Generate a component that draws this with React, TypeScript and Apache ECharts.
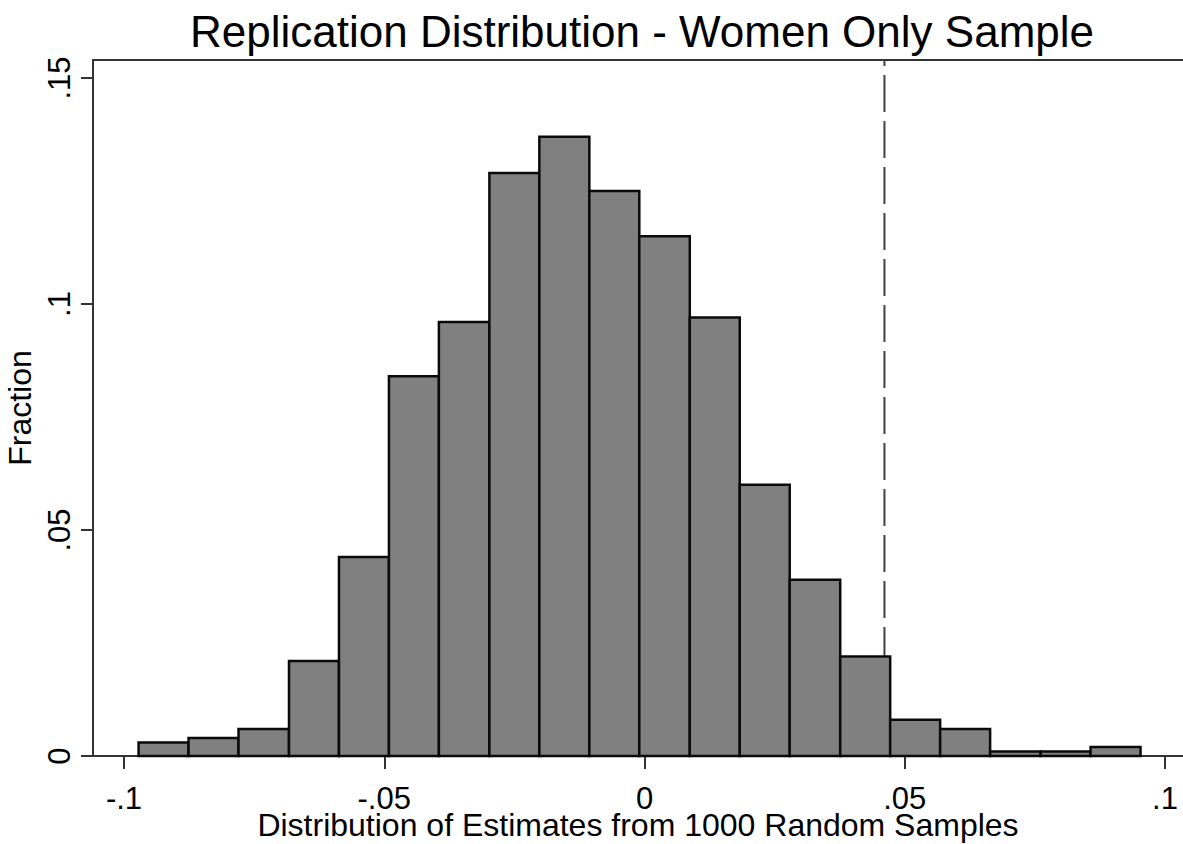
import React, { useEffect, useRef } from "react";
import * as echarts from "echarts";

const TITLE = "Replication Distribution - Women Only Sample";
const X_TITLE = "Distribution of Estimates from 1000 Random Samples";
const Y_TITLE = "Fraction";

// histogram bin edges (21 edges -> 20 bins)
const binEdges = [
  -0.0972, -0.0876, -0.078, -0.0683, -0.0587, -0.0491, -0.0395, -0.0298,
  -0.0202, -0.0106, -0.001, 0.0087, 0.0183, 0.0279, 0.0376, 0.0472, 0.0568,
  0.0664, 0.0761, 0.0857, 0.0953,
];
// fraction of samples per bin
const fractions = [
  0.003, 0.004, 0.006, 0.021, 0.044, 0.084, 0.096, 0.129, 0.137, 0.125,
  0.115, 0.097, 0.06, 0.039, 0.022, 0.008, 0.006, 0.001, 0.001, 0.002,
];

const xTicks = [-0.1, -0.05, 0, 0.05, 0.1];
const xTickLabels = ["-.1", "-.05", "0", ".05", ".1"];
const yTicks = [0, 0.05, 0.1, 0.15];
const yTickLabels = ["0", ".05", ".1", ".15"];

const referenceValue = 0.0461;

const X_MIN = -0.105956;
const X_MAX = 0.103458;
const Y_MIN = 0;
const Y_MAX = 0.153982;

const FONT = "'Liberation Sans', Arial, Helvetica, sans-serif";
const AXIS_COLOR = "#333333";

export default function App() {
  const ref = useRef<HTMLDivElement>(null);

  useEffect(() => {
    if (!ref.current) return;
    const chart = echarts.init(ref.current, null, { renderer: "svg" });

    const histData = fractions.map((f, i) => [binEdges[i], binEdges[i + 1], f]);

    const option: any = {
      animation: false,
      backgroundColor: "#ffffff",
      title: {
        text: TITLE,
        left: 637,
        top: 4,
        textAlign: "center",
        textStyle: {
          fontFamily: FONT,
          fontSize: 44,
          fontWeight: "normal",
          color: "#000000",
        },
      },
      grid: {
        left: 93,
        right: 0,
        top: 60,
        bottom: 88,
        containLabel: false,
        outerBoundsMode: "none",
      },
      xAxis: [
        {
          type: "value",
          min: X_MIN,
          max: X_MAX,
          position: "bottom",
          splitLine: { show: false },
          axisLine: { show: true, onZero: false, lineStyle: { color: AXIS_COLOR, width: 2 } },
          axisTick: {
            show: true,
            length: 13,
            customValues: xTicks,
            lineStyle: { color: AXIS_COLOR, width: 2 },
          },
          axisLabel: {
            show: true,
            customValues: xTicks,
            margin: 30,
            lineHeight: 24,
            fontFamily: FONT,
            fontSize: 31,
            color: "#000000",
            formatter: (v: number) => {
              const i = xTicks.findIndex((t) => Math.abs(t - v) < 1e-9);
              return i >= 0 ? xTickLabels[i] : "";
            },
          },
          name: X_TITLE,
          nameLocation: "middle",
          nameGap: 56,
          nameMoveOverlap: false,
          nameTextStyle: { fontFamily: FONT, fontSize: 32, lineHeight: 26, color: "#000000" },
        },
        {
          type: "value",
          min: X_MIN,
          max: X_MAX,
          position: "top",
          splitLine: { show: false },
          axisLine: { show: true, onZero: false, lineStyle: { color: AXIS_COLOR, width: 2 } },
          axisTick: { show: false },
          axisLabel: { show: false },
        },
      ],
      yAxis: {
        type: "value",
        min: Y_MIN,
        max: Y_MAX,
        splitLine: { show: false },
        axisLine: { show: true, onZero: false, lineStyle: { color: AXIS_COLOR, width: 2 } },
        axisTick: {
          show: true,
          length: 12,
          customValues: yTicks,
          lineStyle: { color: AXIS_COLOR, width: 2 },
        },
        axisLabel: {
          show: true,
          customValues: yTicks,
          rotate: 90,
          margin: 18,
          fontFamily: FONT,
          fontSize: 31,
          color: "#000000",
          formatter: (v: number) => {
            const i = yTicks.findIndex((t) => Math.abs(t - v) < 1e-9);
            return i >= 0 ? yTickLabels[i] : "";
          },
        },
        name: Y_TITLE,
        nameLocation: "middle",
        nameGap: 55,
        nameRotate: 90,
        nameTextStyle: { fontFamily: FONT, fontSize: 32, color: "#000000" },
      },
      series: [
        {
          type: "line",
          xAxisIndex: 0,
          yAxisIndex: 0,
          data: [
            [referenceValue, Y_MIN],
            [referenceValue, Y_MAX],
          ],
          symbol: "none",
          lineStyle: { color: "#404040", width: 2, type: [37, 9] },
          z: 1,
        },
        {
          type: "custom",
          xAxisIndex: 0,
          yAxisIndex: 0,
          data: histData,
          encode: { x: [0, 1], y: 2 },
          z: 3,
          renderItem: (params: any, api: any) => {
            const x0 = api.value(0);
            const x1 = api.value(1);
            const y = api.value(2);
            const p0 = api.coord([x0, y]);
            const p1 = api.coord([x1, 0]);
            return {
              type: "rect",
              shape: {
                x: p0[0],
                y: p0[1],
                width: p1[0] - p0[0],
                height: p1[1] - p0[1],
              },
              style: { fill: "#808080", stroke: "#0a0a0a", lineWidth: 2.5 },
            };
          },
        },
      ],
    };

    chart.setOption(option);
    return () => chart.dispose();
  }, []);

  return (
    <div
      ref={ref}
      style={{ position: "fixed", left: 0, top: 0, width: 1183, height: 844, background: "#fff" }}
    />
  );
}
